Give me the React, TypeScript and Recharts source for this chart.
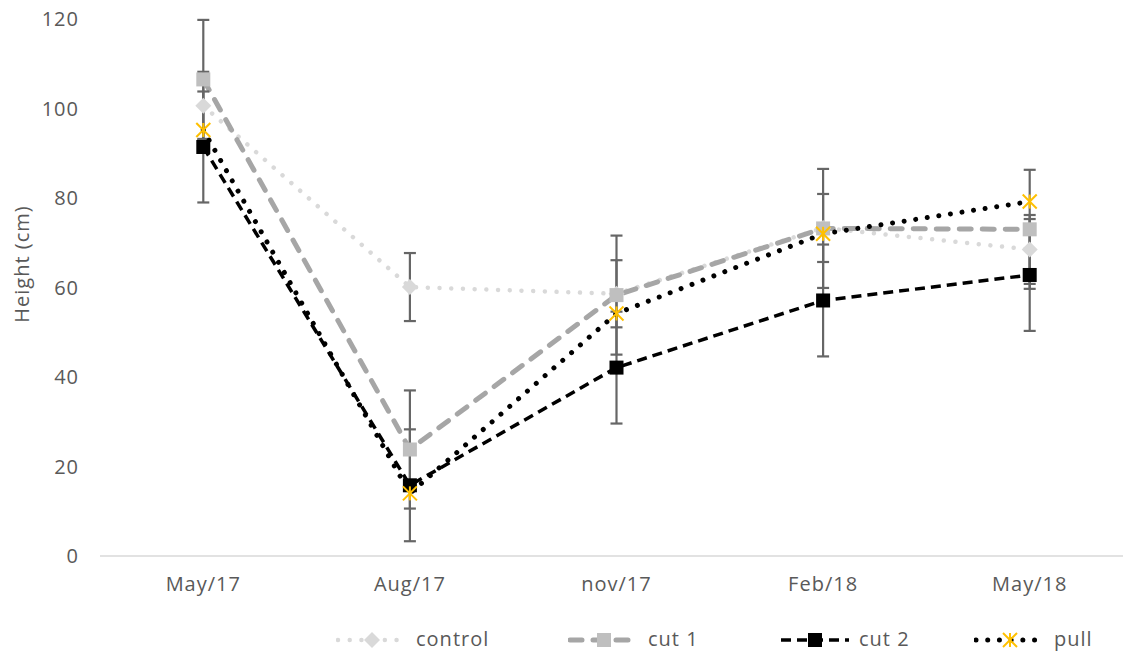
import { LineChart, Line, XAxis, YAxis, ErrorBar, Legend } from 'recharts'

const categories = ['May/17', 'Aug/17', 'nov/17', 'Feb/18', 'May/18']
const control = [100.6, 60.1, 58.6, 73.3, 68.5]
const controlErr = [7.6, 7.6, 7.5, 7.6, 7.7]
const cut1 = [106.5, 23.8, 58.3, 73.2, 73.0]
const cut1Err = [13.3, 13.2, 13.3, 13.3, 13.3]
const cut2 = [91.4, 15.8, 42.1, 57.1, 62.8]
const cut2Err = [12.4, 12.5, 12.5, 12.5, 12.5]
const pull = [95.2, 14.0, 54.2, 72.0, 79.2]
const yTicks = [0, 20, 40, 60, 80, 100, 120]

const data = categories.map((category, idx) => ({
  idx,
  category,
  control: control[idx],
  controlErr: controlErr[idx],
  cut1: cut1[idx],
  cut1Err: cut1Err[idx],
  cut2: cut2[idx],
  cut2Err: cut2Err[idx],
  pull: pull[idx],
}))

const FONT = "'Open Sans', sans-serif"
const TEXT = '#595959'
const ERR = '#666666'
const FS = 20
const LS = 1

type MarkerKind = 'diamond' | 'square' | 'star'

function Marker({ kind, cx, cy, color }: { kind: MarkerKind; cx: number; cy: number; color: string }) {
  if (kind === 'diamond') {
    const r = 8
    return <path d={`M${cx},${cy - r}L${cx + r},${cy}L${cx},${cy + r}L${cx - r},${cy}Z`} fill={color} />
  }
  if (kind === 'square') {
    return <rect x={cx - 7} y={cy - 7} width={14} height={14} fill={color} />
  }
  const r = 7
  return (
    <g stroke={color} strokeWidth={2}>
      <line x1={cx - r} y1={cy - r} x2={cx + r} y2={cy + r} />
      <line x1={cx - r} y1={cy + r} x2={cx + r} y2={cy - r} />
      <line x1={cx} y1={cy - r} x2={cx} y2={cy + r} />
    </g>
  )
}

const seriesStyle = [
  { key: 'control', label: 'control', stroke: '#d9d9d9', width: 4.5, dash: '0.01 11.7', cap: 'round', marker: 'diamond' as MarkerKind, markerColor: '#d9d9d9', legendX: 416 },
  { key: 'cut1', label: 'cut 1', stroke: '#a6a6a6', width: 5, dash: '12 11', cap: 'round', marker: 'square' as MarkerKind, markerColor: '#bfbfbf', legendX: 648 },
  { key: 'cut2', label: 'cut 2', stroke: '#000000', width: 3.5, dash: '10 6', cap: 'butt', marker: 'square' as MarkerKind, markerColor: '#000000', legendX: 859 },
  { key: 'pull', label: 'pull', stroke: '#000000', width: 5, dash: '0.01 11.7', cap: 'round', marker: 'star' as MarkerKind, markerColor: '#FFC000', legendX: 1054 },
]

function LegendBox() {
  return (
    <div style={{ position: 'relative', width: 1133, height: 30, fontFamily: FONT }}>
      {seriesStyle.map((s) => (
        <div key={s.key} style={{ position: 'absolute', left: s.legendX - 80, top: 0, height: 30 }}>
          <svg width={74} height={30} style={{ position: 'absolute', left: 0, top: 0 }}>
            <line
              x1={2}
              y1={15}
              x2={70}
              y2={15}
              stroke={s.stroke}
              strokeWidth={s.width}
              strokeDasharray={s.dash}
              strokeLinecap={s.cap as any}
            />
            <Marker kind={s.marker} cx={36} cy={15} color={s.markerColor} />
          </svg>
          <span
            style={{
              position: 'absolute',
              left: 80,
              top: 2,
              fontSize: FS,
              letterSpacing: LS,
              color: TEXT,
              whiteSpace: 'nowrap',
              lineHeight: '24px',
            }}
          >
            {s.label}
          </span>
        </div>
      ))}
    </div>
  )
}

export default function App() {
  return (
    <div style={{ position: 'absolute', left: 0, top: 0, width: 1123, height: 655, overflow: 'hidden', background: '#fff' }}>
      <LineChart width={1133} height={655} data={data} margin={{ top: 19, right: 0, bottom: 0, left: 0 }}>
        <XAxis
          type="number"
          dataKey="idx"
          domain={[-0.5, 4.5]}
          ticks={[0, 1, 2, 3, 4]}
          tickFormatter={(i: number) => categories[i]}
          axisLine={{ stroke: '#d9d9d9', strokeWidth: 1.5 }}
          tickLine={false}
          tickSize={0}
          tickMargin={21}
          height={69}
          tick={{ fill: TEXT, fontSize: FS, fontFamily: FONT, letterSpacing: LS }}
        />
        <YAxis
          domain={[0, 120]}
          ticks={yTicks}
          axisLine={false}
          tickLine={false}
          tickSize={0}
          tickMargin={21}
          width={100}
          tick={{ fill: TEXT, fontSize: FS, fontFamily: FONT, letterSpacing: LS }}
          label={{
            content: () => (
              <text
                x={21}
                y={264}
                transform="rotate(-90 21 264)"
                textAnchor="middle"
                dominantBaseline="central"
                fill={TEXT}
                fontSize={FS}
                fontFamily={FONT}
                letterSpacing={LS}
              >
                Height (cm)
              </text>
            ),
          }}
        />
        <Legend
          verticalAlign="bottom"
          content={() => <LegendBox />}
          wrapperStyle={{ left: 0, bottom: 0, width: 1133, height: 30 }}
        />
        {seriesStyle.map((s) => (
          <Line
            key={s.key}
            type="linear"
            dataKey={s.key}
            stroke={s.stroke}
            strokeWidth={s.width}
            strokeDasharray={s.dash}
            strokeLinecap={s.cap as any}
            isAnimationActive={false}
            activeDot={false}
            dot={(p: any) => (
              <Marker key={`${s.key}-${p.index}`} kind={s.marker} cx={p.cx} cy={p.cy} color={s.markerColor} />
            )}
          >
            {s.key !== 'pull' && (
              <ErrorBar dataKey={`${s.key}Err`} direction="y" width={6} stroke={ERR} strokeWidth={2.2} />
            )}
          </Line>
        ))}
      </LineChart>
    </div>
  )
}
